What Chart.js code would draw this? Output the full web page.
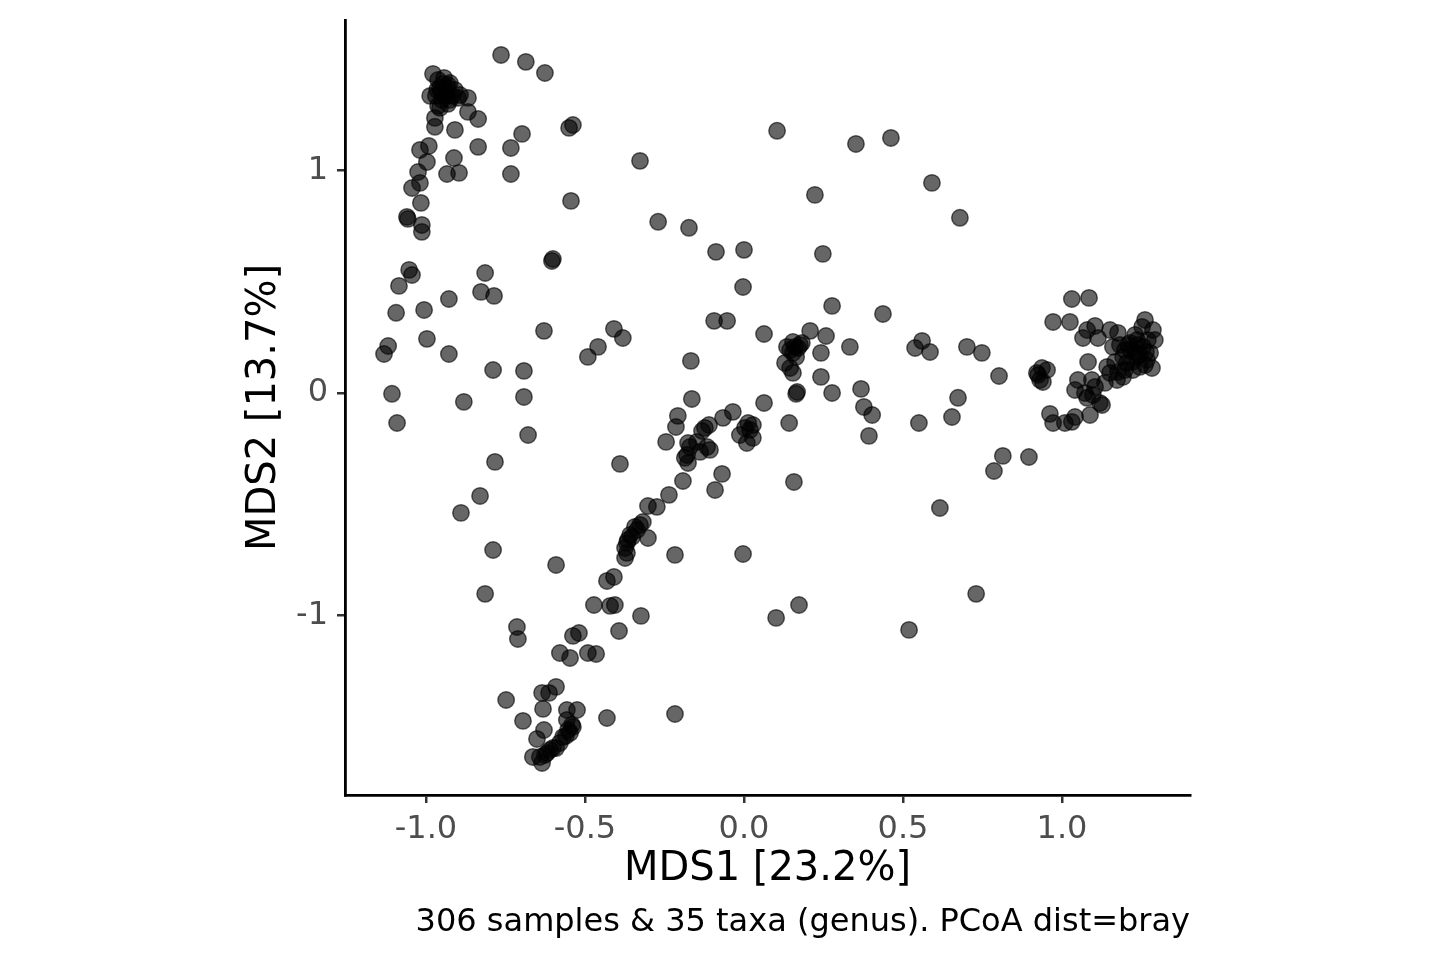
<!DOCTYPE html>
<html><head><meta charset="utf-8">
<script src="https://cdn.jsdelivr.net/npm/chart.js@4"></script>
<style>html,body{margin:0;padding:0;background:#fff;}#wrap{width:1440px;height:960px;position:relative;}</style>
</head><body><div id="wrap"><canvas id="c" width="1440" height="960"></canvas></div>
<script>
const mds1 = [
-0.978,-0.962,-0.943,-0.925,-0.956,-0.937,-0.918,-0.969,-0.950,-0.931,-0.962,-0.909,-0.899,-0.868,-0.956,-0.987,-0.931,-0.947,-0.940,-0.893,
-0.972,-0.972,-0.868,-0.836,-0.909,-0.991,-1.019,-0.997,-0.836,-0.733,-0.698,-0.538,-0.550,-0.912,-0.934,-0.896,-1.025,-1.019,-1.044,-0.733,
-1.016,-0.544,-1.060,-1.057,-1.013,-1.013,-0.601,-0.604,-1.053,-1.044,-0.814,-1.085,-0.764,-0.686,-0.626,-0.827,-0.786,-0.928,-1.094,-1.006,
-0.629,-0.409,-0.381,-0.459,-0.491,-1.119,-1.132,-0.997,-0.928,-0.789,-0.692,-1.107,-0.692,-0.881,-1.091,-0.679,-0.783,-0.390,-0.830,-0.890,
-0.327,-0.270,-0.173,-0.088,0.000,-0.003,0.104,0.223,0.248,0.277,0.352,0.462,0.591,0.679,0.437,-0.094,-0.053,0.063,0.208,0.258,
0.154,0.135,0.170,0.154,0.129,0.145,0.154,0.182,0.176,0.164,0.242,0.333,0.242,0.277,0.167,0.164,0.063,0.142,-0.167,-0.164,
0.538,0.560,0.585,0.701,0.748,0.802,0.673,0.654,0.550,0.393,0.368,0.377,0.403,0.814,0.896,0.786,0.616,0.730,0.519,0.173,
0.101,0.157,0.921,0.931,0.972,1.025,1.031,1.085,1.104,1.079,1.066,1.113,1.151,1.176,1.160,1.261,1.252,1.286,1.236,1.255,
1.214,1.236,1.267,1.204,1.223,1.192,1.173,1.245,1.277,1.283,1.192,1.082,1.142,1.151,1.135,0.937,0.953,0.925,0.940,1.050,
1.094,1.104,1.041,1.072,1.097,1.079,1.126,1.088,0.962,0.972,1.009,1.031,1.041,1.182,1.208,1.230,1.270,1.292,1.245,1.220,
1.198,1.176,1.261,1.214,1.167,1.119,-0.208,-0.214,-0.245,-0.176,-0.148,-0.116,-0.107,-0.179,-0.186,-0.176,-0.138,-0.035,-0.066,-0.110,
-0.132,0.003,0.028,-0.013,0.028,0.009,0.013,-0.069,-0.091,-0.192,-0.236,-0.302,-0.274,-0.318,-0.336,-0.352,-0.368,-0.374,-0.368,-0.374,
-0.302,-0.358,-0.217,-0.003,-0.789,-0.591,-0.814,-0.409,-0.431,-0.472,-0.421,-0.406,-0.324,-0.714,-0.711,-0.519,-0.538,-0.393,-0.579,-0.547,
-0.491,-0.465,-0.591,-0.635,-0.613,-0.748,-0.632,-0.557,-0.525,-0.557,-0.431,-0.217,-0.695,-0.629,-0.651,-0.547,-0.538,-0.569,-0.579,-0.601,
-0.619,-0.642,-0.664,-0.635,-0.553,-0.560,-0.591,-0.610,-0.626,-0.541,-0.343,-0.327,-0.365,0.019,-0.123,-0.170,-0.953,-0.934,-0.965,-0.925,
0.145,0.160,1.239,1.264,1.198,1.230
];
const mds2 = [
1.434,1.407,1.416,1.393,1.371,1.353,1.335,1.335,1.317,1.299,1.290,1.362,1.326,1.326,1.281,1.335,1.384,1.389,1.335,1.339,
1.236,1.196,1.263,1.231,1.182,1.110,1.092,1.038,1.106,1.101,1.164,1.204,1.191,1.056,0.984,0.989,0.993,0.944,0.921,0.984,
0.854,0.863,0.791,0.782,0.755,0.724,0.602,0.593,0.553,0.530,0.539,0.481,1.519,1.488,1.438,0.454,0.436,0.422,0.360,0.373,
0.279,0.288,0.247,0.207,0.162,0.211,0.175,0.243,0.175,0.103,0.099,-0.004,-0.018,-0.040,-0.135,-0.189,-0.310,-0.319,-0.463,-0.539,
1.043,0.769,0.742,0.634,0.643,0.476,1.178,0.890,0.625,0.391,1.119,1.146,0.944,0.787,0.355,0.324,0.324,0.265,0.279,0.256,
0.229,0.207,0.202,0.180,0.135,0.112,0.090,0.225,0.216,0.162,0.180,0.207,0.072,0.000,0.004,-0.004,-0.045,-0.135,0.144,-0.027,
0.202,0.234,0.184,0.207,0.180,0.076,-0.022,-0.108,-0.135,-0.193,0.018,-0.063,-0.099,-0.283,-0.288,-0.351,-0.517,-0.903,-1.065,-0.953,
-1.011,-0.400,0.090,0.058,0.319,0.319,0.422,0.427,0.301,0.283,0.247,0.247,0.283,0.270,0.207,0.328,0.297,0.283,0.238,0.207,
0.193,0.162,0.148,0.135,0.103,0.072,0.058,0.117,0.180,0.112,0.162,0.139,0.117,0.090,0.045,0.112,0.103,0.081,0.049,0.058,
0.058,0.027,0.013,0.000,-0.009,-0.022,-0.054,-0.099,-0.094,-0.135,-0.135,-0.130,-0.108,0.216,0.216,0.261,0.238,0.238,0.171,0.139,
0.103,0.094,0.126,0.225,0.139,-0.045,-0.103,-0.153,-0.220,-0.225,-0.220,-0.243,-0.256,-0.279,-0.292,-0.315,-0.265,-0.085,-0.112,-0.144,
-0.171,-0.157,-0.144,-0.189,-0.202,-0.225,-0.135,-0.364,-0.436,-0.396,-0.458,-0.508,-0.512,-0.580,-0.616,-0.647,-0.674,-0.697,-0.719,-0.742,
-0.652,-0.638,-0.728,-0.724,-0.706,-0.773,-0.903,-0.827,-0.845,-0.953,-0.957,-0.953,-1.002,-1.052,-1.106,-1.079,-1.092,-1.070,-1.169,-1.191,
-1.169,-1.173,-1.321,-1.348,-1.348,-1.380,-1.420,-1.425,-1.425,-1.470,-1.461,-1.443,-1.474,-1.515,-1.555,-1.528,-1.501,-1.546,-1.573,-1.596,
-1.618,-1.636,-1.636,-1.663,-1.515,-1.542,-1.596,-1.604,-1.627,-1.492,-0.602,-0.593,-0.661,-0.166,-0.157,-0.243,1.353,1.371,1.362,1.317,
0.193,0.207,0.216,0.184,0.193,0.184
];
const xTickValues = [-1.0, -0.5, 0.0, 0.5, 1.0];
const yTickValues = [-1, 0, 1];
const xRange = [-1.2547, 1.4025];
const yRange = [-1.807, 1.676];
const xTitle = 'MDS1 [23.2%]';
const yTitle = 'MDS2 [13.7%]';
const caption = '306 samples & 35 taxa (genus). PCoA dist=bray';

const FONT = "'DejaVu Sans', 'Liberation Sans', sans-serif";
const points = mds1.map((x, i) => ({x: x, y: mds2[i]}));

const captionPlugin = {
  id: 'caption',
  afterDraw(chart) {
    const ctx = chart.ctx;
    ctx.save();
    ctx.font = '32px ' + FONT;
    ctx.fillStyle = '#000';
    ctx.textAlign = 'right';
    ctx.textBaseline = 'middle';
    ctx.fillText(caption, chart.chartArea.right, 923);
    ctx.restore();
  }
};

function zeroPad(s) { s.paddingTop = 0; s.paddingBottom = 0; s.paddingLeft = 0; s.paddingRight = 0; }

new Chart(document.getElementById('c'), {
  type: 'scatter',
  data: {
    datasets: [{
      data: points,
      backgroundColor: 'rgba(0,0,0,0.6)',
      borderColor: 'rgba(0,0,0,0.6)',
      borderWidth: 1.5,
      pointRadius: 8.2,
      pointHoverRadius: 8.2
    }]
  },
  plugins: [captionPlugin],
  options: {
    responsive: false,
    devicePixelRatio: 1,
    animation: false,
    events: [],
    layout: {padding: {left: 0, right: 250, top: 20, bottom: 0}},
    plugins: {legend: {display: false}, tooltip: {enabled: false}},
    scales: {
      x: {
        type: 'linear',
        min: xRange[0], max: xRange[1],
        afterBuildTicks: s => { s.ticks = xTickValues.map(v => ({value: v})); },
        afterFit: s => { s.height = 165; zeroPad(s); },
        grid: {display: true, drawOnChartArea: false, drawTicks: true, tickLength: 8, tickColor: '#333333', lineWidth: 2.5},
        border: {display: true, color: '#000000', width: 2.8},
        ticks: {
          font: {family: FONT, size: 32}, color: '#4d4d4d', padding: 7,
          maxRotation: 0, autoSkip: false,
          callback: v => Number(v).toFixed(1)
        },
        title: {display: true, text: xTitle, color: '#000', font: {family: FONT, size: 40}, padding: {top: 0, bottom: 66}}
      },
      y: {
        type: 'linear',
        min: yRange[0], max: yRange[1],
        afterBuildTicks: s => { s.ticks = yTickValues.map(v => ({value: v})); },
        afterFit: s => { s.width = 345; zeroPad(s); },
        grid: {display: true, drawOnChartArea: false, drawTicks: true, tickLength: 8, tickColor: '#333333', lineWidth: 2.5},
        border: {display: true, color: '#000000', width: 2.8},
        ticks: {
          font: {family: FONT, size: 32}, color: '#4d4d4d', padding: 9,
          autoSkip: false,
          callback: v => String(v)
        },
        title: {display: true, text: yTitle, color: '#000', font: {family: FONT, size: 40}, padding: {top: 241, bottom: 0}}
      }
    }
  }
});
</script>
</body></html>
